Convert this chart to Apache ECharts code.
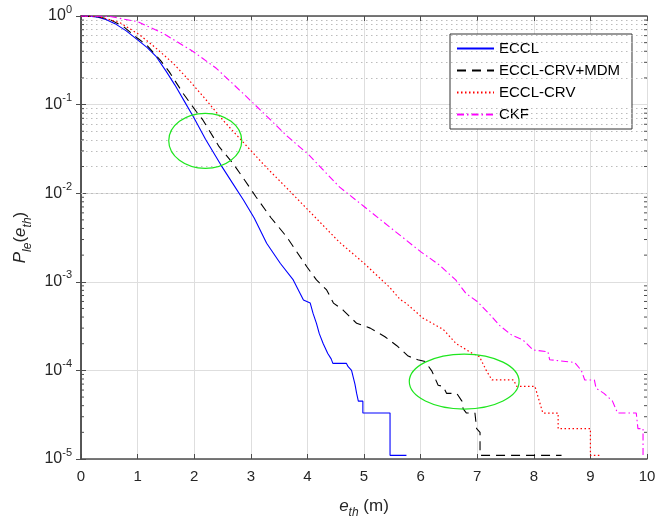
<!DOCTYPE html>
<html><head><meta charset="utf-8">
<script src="https://cdn.jsdelivr.net/npm/echarts@6/dist/echarts.min.js"></script>
<style>html,body{margin:0;padding:0;background:#fff}#c{width:657px;height:519px}</style>
</head><body><div id="c"></div>
<script>
// ---- data ----
const seriesNames = ['ECCL', 'ECCL-CRV+MDM', 'ECCL-CRV', 'CKF'];
const ecclX = [0,0.15,0.3,0.45,0.6,0.8,1.0,1.17,1.33,1.5,1.66,1.83,2.0,2.2,2.47,2.68,2.87,3.06,3.28,3.52,3.75,3.93,4.05,4.10,4.16,4.21,4.28,4.36,4.42,4.45,4.69,4.72,4.78,4.84,4.87,4.90,4.98,4.98,5.46,5.46,5.75];
const ecclY = [1,0.995,0.97,0.91,0.82,0.68,0.537,0.44,0.347,0.24,0.166,0.108,0.07,0.0407,0.0209,0.0129,0.00838,0.00525,0.00272,0.00162,0.00105,6.24e-4,5.75e-4,4.4e-4,3.4e-4,2.6e-4,2.0e-4,1.55e-4,1.35e-4,1.2e-4,1.2e-4,1.1e-4,1.0e-4,7e-5,5.5e-5,4.5e-5,4.5e-5,3.3e-5,3.3e-5,1.1e-5,1.1e-5];
const mdmX = [0,0.3,0.5,0.75,1.0,1.16,1.4,1.56,1.8,2.04,2.15,2.44,2.68,2.89,3.09,3.36,3.63,3.99,4.16,4.34,4.46,4.63,4.87,5.11,5.37,5.58,5.78,5.95,6.08,6.2,6.31,6.4,6.46,6.64,6.73,6.75,6.81,6.96,6.99,7.05,7.05,8.49];
const mdmY = [1,0.98,0.92,0.76,0.56,0.471,0.318,0.234,0.135,0.083,0.0676,0.0335,0.0219,0.0141,0.00912,0.00525,0.00324,0.00148,0.00105,8.1e-4,5.75e-4,4.8e-4,3.4e-4,3.0e-4,2.4e-4,1.9e-4,1.45e-4,1.32e-4,1.26e-4,9.8e-5,6.8e-5,6.6e-5,5.5e-5,5.5e-5,4.5e-5,3.7e-5,3.3e-5,3.3e-5,2.2e-5,2.0e-5,1.1e-5,1.1e-5];
const crvX = [0,0.3,0.69,1.04,1.33,1.63,1.93,2.2,2.5,2.91,3.26,3.62,4.15,4.56,5.0,5.45,5.64,5.74,6.04,6.4,6.63,6.92,7.04,7.16,7.26,7.64,7.7,8.02,8.08,8.16,8.43,8.43,9.0,9.0,9.16];
const crvY = [1,0.99,0.84,0.61,0.431,0.292,0.182,0.115,0.0676,0.035,0.02,0.0117,0.00525,0.00282,0.00162,8.7e-4,6.3e-4,5.75e-4,3.9e-4,2.9e-4,2.0e-4,1.55e-4,1.43e-4,1.0e-4,7.8e-5,7.8e-5,6.6e-5,6.6e-5,4.9e-5,3.3e-5,3.3e-5,2.2e-5,2.2e-5,1.1e-5,1.1e-5];
const ckfX = [0,0.5,1.0,1.45,1.98,2.39,2.83,3.26,3.62,4.03,4.57,5.0,5.45,6.0,6.33,6.62,6.8,7.0,7.22,7.4,7.61,7.81,7.99,8.25,8.28,8.72,8.84,8.9,9.07,9.1,9.24,9.39,9.48,9.81,9.84,9.93,9.93];
const ckfY = [1,0.99,0.863,0.638,0.398,0.257,0.14,0.0764,0.0454,0.0269,0.0117,0.00708,0.00417,0.00219,0.00155,0.00105,7.4e-4,6.0e-4,4.3e-4,3.2e-4,2.5e-4,2.2e-4,1.7e-4,1.62e-4,1.32e-4,1.23e-4,1.0e-4,7.8e-5,7.8e-5,6.3e-5,5.5e-5,4.5e-5,3.3e-5,3.3e-5,2.2e-5,2.2e-5,1.1e-5];
const xTicks = [0,1,2,3,4,5,6,7,8,9,10];
const yDecades = [-5,-4,-3,-2,-1,0];
const yMinorMantissas = [2,3,4,5,6,7,8,9];
// annotation ellipses (data-space bounding boxes)
const ellipseBoxes = [
  {x0: 1.55, x1: 2.84, yTop: 0.0798, yBot: 0.0191},
  {x0: 5.80, x1: 7.74, yTop: 1.53e-4, yBot: 3.66e-5}
];

// ---- build ----
const FONT = '"Liberation Sans", Arial, Helvetica, sans-serif';
const TXT = '#262626';
const zip = (xs, ys) => xs.map((x, i) => [x, ys[i]]);
const minorVals = [];
yDecades.slice(0, -1).forEach(d => yMinorMantissas.forEach(m => minorVals.push(m * Math.pow(10, d))));

const styles = [
  {color: '#0000ff', type: 'solid', width: 1.1},
  {color: '#000000', type: [9, 6], width: 1.1},
  {color: '#ff0000', type: [1.5, 2.5], width: 1.2},
  {color: '#ff00ff', type: [7, 3, 1.5, 3], width: 1.1}
];
const dataSets = [zip(ecclX, ecclY), zip(mdmX, mdmY), zip(crvX, crvY), zip(ckfX, ckfY)];

const chart = echarts.init(document.getElementById('c'), null, {renderer: 'canvas'});
const xMin = xTicks[0], xMax = xTicks[xTicks.length - 1];
const yMin = Math.pow(10, yDecades[0]), yMax = Math.pow(10, yDecades[yDecades.length - 1]);

const series = dataSets.map((d, i) => ({
  name: seriesNames[i], type: 'line', data: d, symbol: 'none', showSymbol: false, z: 5,
  lineStyle: {color: styles[i].color, type: styles[i].type, width: styles[i].width},
  itemStyle: {color: styles[i].color},
  animation: false
}));
series.unshift({
  name: '_grid', type: 'line', data: [], z: 1, silent: true,
  markLine: {
    silent: true, symbol: ['none', 'none'], label: {show: false},
    lineStyle: {color: '#bcbcbc', type: [1.5, 3.5], width: 1},
    data: minorVals.map(v => ({yAxis: v}))
  }
});

const option = {
  animation: false,
  backgroundColor: '#ffffff',
  grid: {left: 81, right: 10, top: 16, bottom: 60, containLabel: false, outerBoundsMode: 'none'},
  legend: {
    data: seriesNames, orient: 'vertical', left: 450, top: 34,
    itemWidth: 37, itemHeight: 14, itemGap: 7,
    padding: [7, 12, 7, 6],
    itemStyle: {opacity: 0},
    borderColor: '#333', borderWidth: 1, backgroundColor: '#fff',
    textStyle: {fontFamily: FONT, fontSize: 15, color: '#000'}
  },
  xAxis: [{
    type: 'value', min: xMin, max: xMax, interval: 1, position: 'bottom',
    name: '{i|e}{s|th}{n| (m)}', nameLocation: 'middle', nameGap: 34,
    nameTextStyle: {rich: {
      i: {fontFamily: FONT, fontSize: 17, fontStyle: 'italic', color: TXT, lineHeight: 26},
      s: {fontFamily: FONT, fontSize: 12, fontStyle: 'italic', color: TXT, verticalAlign: 'bottom'},
      n: {fontFamily: FONT, fontSize: 17, color: TXT, lineHeight: 26}
    }},
    axisLine: {lineStyle: {color: '#4d4d4d', width: 1.5}},
    axisTick: {inside: true, length: 5, lineStyle: {color: '#4d4d4d'}},
    axisLabel: {fontFamily: FONT, fontSize: 15, color: TXT, margin: 10},
    splitLine: {show: true, lineStyle: {color: '#dedede', width: 1}}
  }, {
    type: 'value', min: xMin, max: xMax, interval: 1, position: 'top',
    axisLine: {lineStyle: {color: '#4d4d4d', width: 1.5}},
    axisTick: {inside: true, length: 5, lineStyle: {color: '#4d4d4d'}},
    axisLabel: {show: false}, splitLine: {show: false}
  }],
  yAxis: [{
    type: 'log', logBase: 10, min: yMin, max: yMax, position: 'left',
    name: '{i|P}{s|le}{n|(}{i|e}{s|th}{n|)}', nameLocation: 'middle', nameGap: 47, nameRotate: 90,
    nameTextStyle: {rich: {
      i: {fontFamily: FONT, fontSize: 17, fontStyle: 'italic', color: TXT, lineHeight: 26},
      s: {fontFamily: FONT, fontSize: 12, fontStyle: 'italic', color: TXT, verticalAlign: 'bottom'},
      n: {fontFamily: FONT, fontSize: 17, color: TXT, lineHeight: 26}
    }},
    axisLine: {lineStyle: {color: '#4d4d4d', width: 1.5}},
    axisTick: {inside: true, length: 5, lineStyle: {color: '#4d4d4d'}},
    axisLabel: {
      margin: 9,
      formatter: v => '{b|10}{e|' + Math.round(Math.log10(v)) + '}',
      rich: {
        b: {fontFamily: FONT, fontSize: 16, color: TXT, lineHeight: 24},
        e: {fontFamily: FONT, fontSize: 11, color: TXT, verticalAlign: 'top'}
      }
    },
    splitLine: {show: true, lineStyle: {color: '#dedede', width: 1}}
  }, {
    type: 'log', logBase: 10, min: yMin, max: yMax, position: 'right',
    axisLine: {lineStyle: {color: '#4d4d4d', width: 1.5}},
    axisTick: {inside: true, length: 5, lineStyle: {color: '#4d4d4d'}},
    axisLabel: {show: false}, splitLine: {show: false}
  }],
  series: series
};
chart.setOption(option);

function decorate() {
  const g = [];
  const conv = (x, y) => chart.convertToPixel({gridIndex: 0}, [x, y]);
  minorVals.forEach(v => {
    const pl = conv(xMin, v), pr = conv(xMax, v);
    g.push({type: 'line', shape: {x1: pl[0], y1: pl[1], x2: pl[0] + 3, y2: pl[1]}, style: {stroke: '#4d4d4d', lineWidth: 1}, z: 10, silent: true});
    g.push({type: 'line', shape: {x1: pr[0] - 3, y1: pr[1], x2: pr[0], y2: pr[1]}, style: {stroke: '#4d4d4d', lineWidth: 1}, z: 10, silent: true});
  });
  ellipseBoxes.forEach(b => {
    const a = conv(b.x0, b.yTop), c = conv(b.x1, b.yBot);
    g.push({type: 'ellipse', shape: {cx: (a[0] + c[0]) / 2, cy: (a[1] + c[1]) / 2, rx: Math.abs(c[0] - a[0]) / 2, ry: Math.abs(c[1] - a[1]) / 2},
      style: {fill: 'none', stroke: '#1ee61e', lineWidth: 1.2}, z: 20, silent: true});
  });
  chart.setOption({graphic: g});
}
decorate();
</script>
</body></html>
